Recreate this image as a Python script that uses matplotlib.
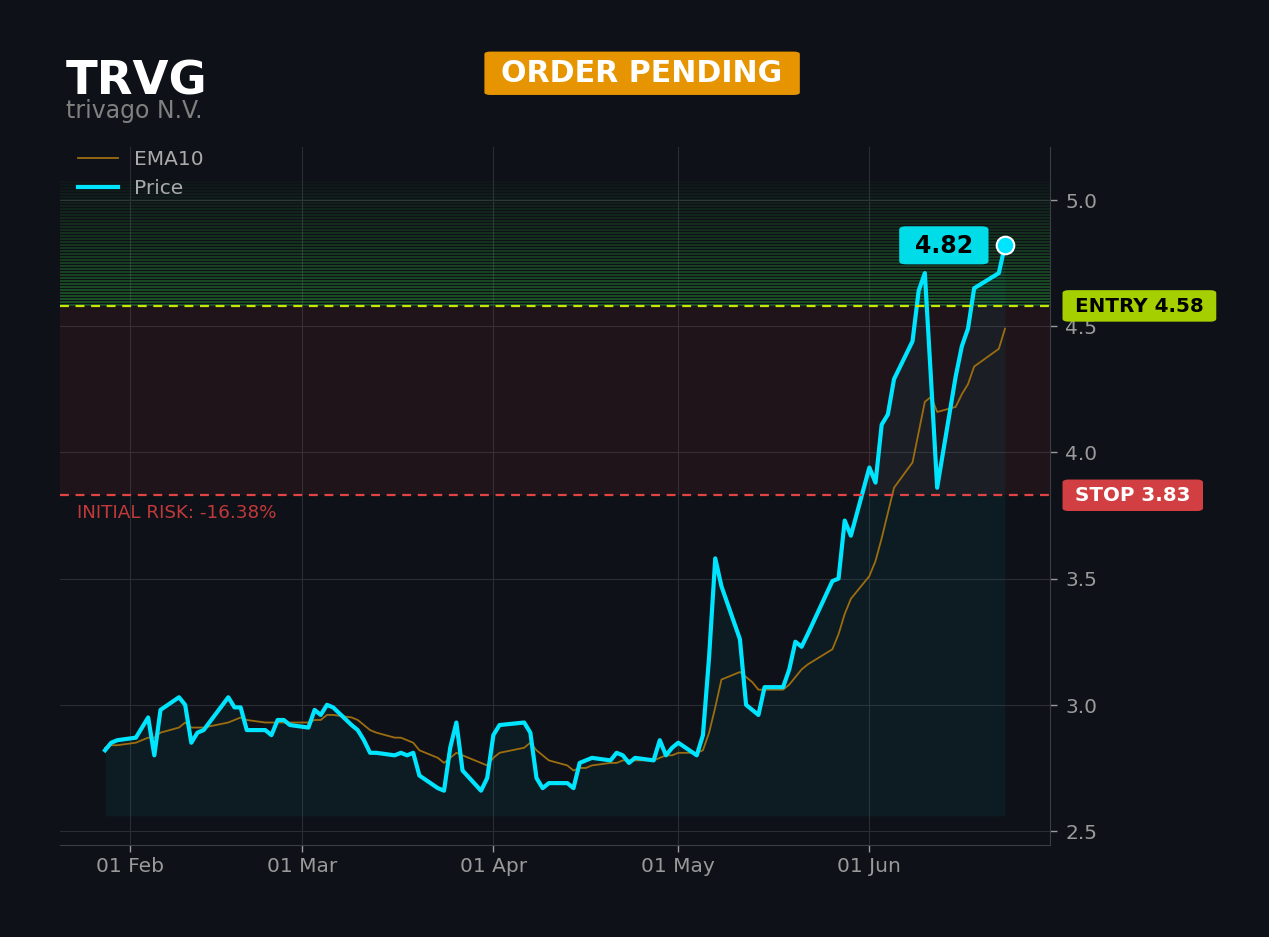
import matplotlib
matplotlib.use("Agg")
import matplotlib.pyplot as plt
import matplotlib.dates as mdates
import matplotlib.transforms as mtransforms
import numpy as np
import pandas as pd

# datos
fechas = ["2026-01-28", "2026-01-29", "2026-01-30", "2026-02-02", "2026-02-04", "2026-02-05",
          "2026-02-06", "2026-02-09", "2026-02-10", "2026-02-11", "2026-02-12", "2026-02-13",
          "2026-02-17", "2026-02-18", "2026-02-19", "2026-02-20", "2026-02-23", "2026-02-24",
          "2026-02-25", "2026-02-26", "2026-02-27", "2026-03-02", "2026-03-03", "2026-03-04",
          "2026-03-05", "2026-03-06", "2026-03-09", "2026-03-10", "2026-03-11", "2026-03-12",
          "2026-03-13", "2026-03-16", "2026-03-17", "2026-03-18", "2026-03-19", "2026-03-20",
          "2026-03-23", "2026-03-24", "2026-03-25", "2026-03-26", "2026-03-27", "2026-03-30",
          "2026-03-31", "2026-04-01", "2026-04-02", "2026-04-06", "2026-04-07", "2026-04-08",
          "2026-04-09", "2026-04-10", "2026-04-13", "2026-04-14", "2026-04-15", "2026-04-16",
          "2026-04-17", "2026-04-20", "2026-04-21", "2026-04-22", "2026-04-23", "2026-04-24",
          "2026-04-27", "2026-04-28", "2026-04-29", "2026-04-30", "2026-05-01", "2026-05-04",
          "2026-05-05", "2026-05-06", "2026-05-07", "2026-05-08", "2026-05-11", "2026-05-12",
          "2026-05-13", "2026-05-14", "2026-05-15", "2026-05-18", "2026-05-19", "2026-05-20",
          "2026-05-21", "2026-05-22", "2026-05-26", "2026-05-27", "2026-05-28", "2026-05-29",
          "2026-06-01", "2026-06-02", "2026-06-03", "2026-06-04", "2026-06-05", "2026-06-08",
          "2026-06-09", "2026-06-10", "2026-06-11", "2026-06-12", "2026-06-15", "2026-06-16",
          "2026-06-17", "2026-06-18", "2026-06-22", "2026-06-23"]

precio = [2.82, 2.85, 2.86, 2.87, 2.95, 2.80,
          2.98, 3.03, 3.00, 2.85, 2.89, 2.90,
          3.03, 2.99, 2.99, 2.90, 2.90, 2.88,
          2.94, 2.94, 2.92, 2.91, 2.98, 2.96,
          3.00, 2.99, 2.92, 2.90, 2.86, 2.81,
          2.81, 2.80, 2.81, 2.80, 2.81, 2.72,
          2.67, 2.66, 2.83, 2.93, 2.74, 2.66,
          2.71, 2.88, 2.92, 2.93, 2.89, 2.71,
          2.67, 2.69, 2.69, 2.67, 2.77, 2.78,
          2.79, 2.78, 2.81, 2.80, 2.77, 2.79,
          2.78, 2.86, 2.80, 2.83, 2.85, 2.80,
          2.88, 3.19, 3.58, 3.47, 3.26, 3.00,
          2.98, 2.96, 3.07, 3.07, 3.14, 3.25,
          3.23, 3.28, 3.49, 3.50, 3.73, 3.67,
          3.94, 3.88, 4.11, 4.15, 4.29, 4.44,
          4.64, 4.71, 4.29, 3.86, 4.30, 4.42,
          4.49, 4.65, 4.71, 4.82]

ema10 = [2.83, 2.84, 2.84, 2.85, 2.87, 2.87,
         2.89, 2.91, 2.93, 2.91, 2.91, 2.91,
         2.93, 2.94, 2.95, 2.94, 2.93, 2.93,
         2.93, 2.93, 2.93, 2.93, 2.94, 2.94,
         2.96, 2.96, 2.95, 2.94, 2.92, 2.90,
         2.89, 2.87, 2.87, 2.86, 2.85, 2.82,
         2.79, 2.77, 2.79, 2.81, 2.80, 2.77,
         2.76, 2.79, 2.81, 2.83, 2.85, 2.82,
         2.80, 2.78, 2.76, 2.74, 2.75, 2.75,
         2.76, 2.77, 2.77, 2.78, 2.78, 2.78,
         2.78, 2.79, 2.80, 2.80, 2.81, 2.81,
         2.82, 2.89, 2.99, 3.10, 3.13, 3.11,
         3.09, 3.06, 3.06, 3.06, 3.08, 3.11,
         3.14, 3.16, 3.22, 3.28, 3.36, 3.42,
         3.51, 3.57, 3.66, 3.76, 3.86, 3.96,
         4.08, 4.20, 4.22, 4.16, 4.18, 4.23,
         4.27, 4.34, 4.41, 4.49]

ticker = "TRVG"
empresa = "trivago N.V."
estado = "ORDER PENDING"
entrada = 4.58
stop = 3.83
objetivo = 5.08
base_relleno = 2.56
riesgo = "INITIAL RISK: -16.38%"

fondo = "#0e1117"
cian = "#00e5ff"

fechas = pd.to_datetime(fechas)

fig = plt.figure(figsize=(12.69, 9.372), dpi=100, facecolor=fondo)
ax = fig.add_axes([0.0473, 0.0982, 0.7801, 0.7449])
ax.set_facecolor(fondo)

# zona objetivo con franjas verdes
n = 42
pasos = np.linspace(entrada, objetivo, n + 1)
for i in range(n):
    alfa = 0.36 * (1 - i / n) + 0.03
    ax.axhspan(pasos[i], pasos[i] + (pasos[i + 1] - pasos[i]) * 0.6,
               color="#2fb53a", alpha=alfa, lw=0)

# zona de riesgo
ax.axhspan(stop, entrada, color="#ef4444", alpha=0.075, lw=0)

# precio y ema
ax.fill_between(fechas, precio, base_relleno, color=cian, alpha=0.05, lw=0)
ax.plot(fechas, ema10, color="#9c6d10", lw=1.3, label="EMA10")
ax.plot(fechas, precio, color=cian, lw=3, label="Price")
ax.scatter([fechas[-1]], [precio[-1]], s=160, color=cian, edgecolors="white",
           linewidths=1.5, zorder=5)

ax.axhline(entrada, color="#c8e600", lw=1.6, ls=(0, (4, 3)))
ax.axhline(stop, color="#e04444", lw=1.6, ls=(0, (4, 3)))

# etiquetas a la derecha
trans = mtransforms.blended_transform_factory(ax.transAxes, ax.transData)
ax.text(1.0253, entrada, f"ENTRY {entrada:.2f}", transform=trans, ha="left", va="center",
        fontsize=14.3, fontweight="bold", color="black",
        bbox=dict(boxstyle="round,pad=0.63,rounding_size=0.3", mutation_aspect=0.5,
                  fc="#a6cf00", ec="none"))
ax.text(1.0253, stop, f"STOP {stop:.2f}", transform=trans, ha="left", va="center",
        fontsize=14.3, fontweight="bold", color="white",
        bbox=dict(boxstyle="round,pad=0.63,rounding_size=0.3", mutation_aspect=0.5,
                  fc="#d13f42", ec="none"))

ax.annotate(f"{precio[-1]:.2f}", (fechas[-1], precio[-1]), xytext=(-44, 0),
            textcoords="offset points", ha="center", va="center",
            fontsize=17, fontweight="bold", color="black",
            bbox=dict(boxstyle="round,pad=0.66,rounding_size=0.3", mutation_aspect=0.45,
                      fc="#00dde8", ec="none"))

ax.text(0.017, stop - 0.07, riesgo, transform=trans, ha="left", va="center",
        fontsize=13.2, color="#c0393b")

# ejes
ax.set_ylim(2.445, 5.21)
ax.set_yticks([2.5, 3.0, 3.5, 4.0, 4.5, 5.0])
ax.yaxis.tick_right()
ax.xaxis.set_major_locator(mdates.MonthLocator())
ax.xaxis.set_major_formatter(mdates.DateFormatter("%d %b"))
ax.tick_params(colors="#9a9a9a", labelsize=14.5, length=5, width=1)
ax.tick_params(axis="y", pad=6)
ax.grid(True, color="#2a2d33", lw=0.8)
ax.set_axisbelow(True)
for lado in ["top", "left"]:
    ax.spines[lado].set_visible(False)
for lado in ["bottom", "right"]:
    ax.spines[lado].set_color("#3a3d44")

leg = ax.legend(loc="upper left", bbox_to_anchor=(0.01, 1.007), frameon=False,
                fontsize=14.5, labelcolor="#aaaaaa", borderaxespad=0)

# titulos
fig.text(0.052, 0.8997, ticker, fontsize=33.5, fontweight="bold", color="white", va="baseline")
fig.text(0.052, 0.8745, empresa, fontsize=17, color="#808080", va="baseline")
fig.text(0.506, 0.9216, estado, fontsize=21.6, fontweight="bold", color="white",
         ha="center", va="center",
         bbox=dict(boxstyle="round,pad=0.57,rounding_size=0.2", mutation_aspect=0.42,
                   fc="#e69500", ec="none"))

fig.savefig("out.png", dpi=100, facecolor=fondo)
